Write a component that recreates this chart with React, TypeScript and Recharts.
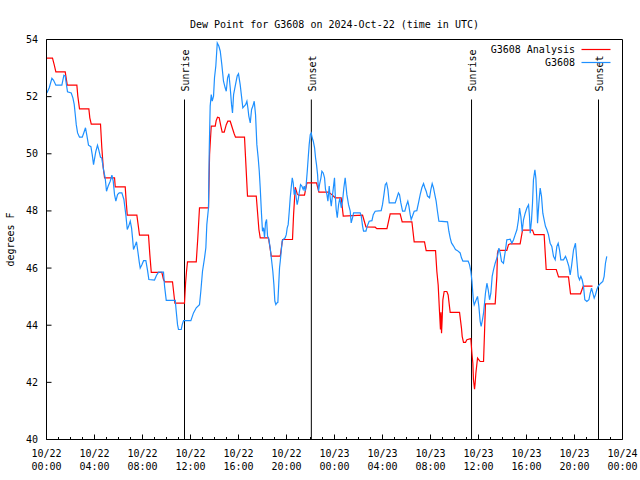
import { Legend, Line, LineChart, ReferenceLine, XAxis, YAxis } from "recharts";

const FONT = '"DejaVu Sans Mono", "Liberation Mono", monospace';
const RED = "#ff0000";
const BLUE = "#1e90ff";

const title = "Dew Point for G3608 on 2024-Oct-22 (time in UTC)";

// x is hours since 2024-10-22 00:00 UTC
const majorHours = [0, 4, 8, 12, 16, 20, 24, 28, 32, 36, 40, 44, 48];
const majorDates = ["10/22", "10/22", "10/22", "10/22", "10/22", "10/22", "10/23", "10/23", "10/23", "10/23", "10/23", "10/23", "10/24"];
const majorTimes = ["00:00", "04:00", "08:00", "12:00", "16:00", "20:00", "00:00", "04:00", "08:00", "12:00", "16:00", "20:00", "00:00"];
const hourTicks = Array.from({ length: 49 }, (_, i) => i);
const yTicks = [40, 42, 44, 46, 48, 50, 52, 54];

const eventNames = ["Sunrise", "Sunset", "Sunrise", "Sunset"];
const eventHours = [11.5, 22.07, 35.42, 46.0];
const eventTop = 51.9;

const analysisHours = [
  0.0, 0.5, 0.64, 0.78, 1.56, 1.73, 2.53, 2.61, 2.75, 3.53,
  3.61, 3.73, 4.5, 4.61, 4.73, 4.84, 5.67, 5.73, 6.56, 6.64,
  6.73, 7.53, 7.67, 7.75, 8.5, 8.61, 8.73, 9.61, 9.75, 9.86,
  10.5, 10.7, 11.5, 11.59, 11.67, 11.75, 12.48, 12.61, 12.75, 13.5,
  13.59, 13.67, 13.73, 14.06, 14.14, 14.25, 14.39, 14.53, 14.64, 14.81,
  14.98, 15.11, 15.31, 15.48, 15.64, 15.75, 16.5, 16.75, 17.48, 17.7,
  17.81, 18.5, 18.73, 19.48, 19.67, 20.5, 20.59, 20.73, 20.89, 21.0,
  21.5, 21.7, 22.5, 22.7, 23.5, 23.78, 24.06, 24.56, 24.73, 26.34,
  26.62, 27.39, 27.53, 28.37, 28.64, 29.47, 29.64, 30.45, 30.64, 31.5,
  31.64, 32.42, 32.53, 32.64, 32.75, 32.83, 32.87, 32.92, 32.97, 33.03,
  33.14, 33.36, 33.47, 33.58, 33.64, 34.42, 34.58, 34.64, 34.75, 34.92,
  35.03, 35.36, 35.45, 35.53, 35.58, 35.67, 35.72, 35.78, 35.92, 36.14,
  36.42, 36.5, 36.58, 37.39, 37.53, 37.58, 37.64, 38.36, 38.5, 38.64,
  39.47, 39.67, 40.5, 40.64, 41.47, 41.64, 42.48, 42.67, 43.5, 43.67,
  44.5, 44.73, 45.5
];
const analysisValues = [
  53.35, 53.35, 53.12, 52.87, 52.87, 52.4, 52.4, 52.02, 51.57, 51.57,
  51.26, 51.04, 51.04, 50.21, 49.51, 49.16, 49.16, 48.84, 48.84, 48.34,
  47.85, 47.85, 47.41, 47.15, 47.15, 46.48, 45.85, 45.85, 45.6, 45.52,
  45.52, 44.77, 44.77, 45.48, 45.89, 46.22, 46.22, 47.06, 48.11, 48.11,
  49.97, 50.56, 50.97, 50.97, 51.16, 51.28, 51.26, 50.97, 50.76, 50.76,
  51.02, 51.14, 51.14, 50.91, 50.7, 50.58, 50.58, 48.52, 48.52, 47.35,
  47.06, 47.06, 46.42, 46.42, 47.0, 47.0, 47.87, 48.83, 48.6, 48.55,
  48.55, 48.98, 48.98, 48.66, 48.66, 48.57, 48.46, 48.46, 47.82, 47.85,
  47.44, 47.43, 47.38, 47.38, 47.9, 47.9, 47.62, 47.62, 46.92, 46.92,
  46.61, 46.61, 45.88, 45.41, 44.48, 43.85, 44.45, 43.72, 44.19, 44.89,
  45.18, 45.18, 45.06, 44.66, 44.45, 44.45, 43.9, 43.61, 43.4, 43.4,
  43.49, 43.53, 43.02, 42.67, 42.09, 41.76, 41.97, 42.32, 42.85, 42.73,
  42.73, 43.72, 44.75, 44.75, 45.71, 46.52, 46.62, 46.62, 46.82, 46.85,
  46.85, 47.33, 47.33, 47.17, 47.17, 45.95, 45.95, 45.69, 45.69, 45.1,
  45.1, 45.37, 45.37
];

const stationHours = [
  0.03, 0.23, 0.45, 0.59, 0.78, 1.28, 1.45, 1.56, 1.64, 1.75,
  2.06, 2.2, 2.31, 2.39, 2.48, 2.59, 2.75, 2.98, 3.14, 3.25,
  3.36, 3.5, 3.7, 3.81, 3.92, 4.11, 4.25, 4.36, 4.5, 4.6,
  4.75, 4.89, 5.0, 5.14, 5.31, 5.45, 5.56, 5.67, 5.78, 5.92,
  6.06, 6.28, 6.45, 6.61, 6.73, 6.84, 6.98, 7.09, 7.17, 7.25,
  7.36, 7.5, 7.61, 7.73, 7.81, 7.95, 8.09, 8.28, 8.42, 8.53,
  9.0, 9.17, 9.34, 9.75, 9.84, 9.98, 10.73, 10.81, 10.92, 11.0,
  11.23, 11.31, 11.42, 12.03, 12.25, 12.48, 12.75, 12.86, 13.0, 13.17,
  13.28, 13.36, 13.5, 13.56, 13.64, 13.73, 13.81, 13.92, 14.0, 14.11,
  14.23, 14.36, 14.48, 14.61, 14.75, 14.89, 14.98, 15.09, 15.2, 15.31,
  15.42, 15.5, 15.59, 15.75, 15.89, 16.0, 16.14, 16.25, 16.36, 16.48,
  16.59, 16.7, 16.78, 16.86, 16.98, 17.09, 17.2, 17.31, 17.42, 17.53,
  17.64, 17.73, 17.81, 17.92, 18.0, 18.09, 18.17, 18.25, 18.34, 18.42,
  18.53, 18.64, 18.75, 18.86, 18.95, 19.03, 19.11, 19.2, 19.28, 19.36,
  19.42, 19.48, 19.56, 19.64, 19.73, 19.89, 19.98, 20.06, 20.14, 20.23,
  20.31, 20.39, 20.48, 20.56, 20.64, 20.73, 20.81, 20.89, 20.98, 21.06,
  21.17, 21.28, 21.39, 21.48, 21.56, 21.64, 21.73, 21.81, 21.89, 21.98,
  22.06, 22.14, 22.23, 22.34, 22.42, 22.5, 22.59, 22.67, 22.75, 22.87,
  22.95, 23.06, 23.17, 23.25, 23.37, 23.45, 23.56, 23.64, 23.73, 23.84,
  23.92, 24.0, 24.06, 24.14, 24.23, 24.34, 24.45, 24.56, 24.67, 24.78,
  24.89, 25.03, 25.17, 25.31, 25.39, 25.5, 25.59, 26.14, 26.23, 26.34,
  26.42, 26.62, 26.73, 26.89, 27.12, 27.23, 27.39, 27.89, 28.0, 28.12,
  28.23, 28.34, 28.45, 28.56, 29.06, 29.2, 29.33, 29.42, 29.53, 29.67,
  29.86, 29.97, 30.11, 30.2, 30.31, 30.39, 30.5, 30.64, 30.86, 31.0,
  31.14, 31.28, 31.42, 31.53, 31.64, 31.75, 31.92, 32.03, 32.14, 32.25,
  32.36, 32.47, 32.58, 32.7, 33.42, 33.53, 33.64, 33.75, 33.92, 34.08,
  34.25, 34.47, 34.58, 34.7, 35.14, 35.25, 35.36, 35.45, 35.58, 35.64,
  35.81, 35.92, 36.03, 36.14, 36.22, 36.33, 36.42, 36.58, 36.7, 36.81,
  36.92, 37.03, 37.14, 37.25, 37.39, 37.58, 37.7, 37.81, 37.92, 38.08,
  38.25, 38.36, 38.64, 38.78, 38.92, 39.06, 39.2, 39.33, 39.42, 39.53,
  39.64, 39.75, 39.89, 40.03, 40.17, 40.25, 40.31, 40.42, 40.5, 40.58,
  40.7, 40.78, 40.86, 40.92, 41.03, 41.14, 41.25, 41.36, 41.47, 41.58,
  41.7, 41.83, 41.97, 42.11, 42.25, 42.39, 42.53, 42.64, 42.75, 42.86,
  43.08, 43.25, 43.36, 43.53, 43.64, 43.75, 43.92, 44.08, 44.19, 44.31,
  44.42, 44.53, 44.64, 44.75, 44.86, 45.03, 45.2, 45.31, 45.42, 45.53,
  45.64, 45.75, 45.86, 45.97, 46.08, 46.19, 46.36, 46.47, 46.58, 46.69
];
const stationValues = [
  52.13, 52.31, 52.64, 52.57, 52.4, 52.4, 52.75, 52.72, 52.48, 52.17,
  52.13, 51.96, 51.73, 51.4, 51.02, 50.73, 50.58, 50.58, 50.77, 50.91,
  50.65, 50.3, 50.25, 49.97, 49.62, 50.08, 50.3, 50.13, 49.88, 49.86,
  49.45, 49.16, 48.69, 48.87, 49.04, 49.25, 49.04, 48.57, 48.34, 48.57,
  48.63, 48.63, 48.4, 47.87, 47.35, 47.46, 47.64, 47.4, 47.05, 46.65,
  46.76, 46.92, 46.59, 46.21, 46.0, 46.12, 46.26, 46.26, 45.92, 45.6,
  45.58, 45.75, 45.86, 45.86, 45.36, 44.87, 44.87, 44.49, 44.02, 43.85,
  43.85, 44.02, 44.16, 44.16, 44.43, 44.61, 44.72, 45.19, 45.89, 46.36,
  46.71, 47.52, 48.11, 50.09, 51.67, 52.07, 51.84, 52.02, 52.66, 53.07,
  53.88, 53.77, 53.59, 53.12, 52.54, 52.31, 52.19, 52.66, 52.8, 52.31,
  51.72, 51.43, 52.07, 52.42, 52.72, 52.8, 52.42, 52.02, 51.61, 51.67,
  51.72, 51.84, 51.61, 51.32, 51.08, 51.55, 51.67, 51.84, 51.37, 50.32,
  49.86, 49.39, 48.81, 47.87, 47.29, 47.41, 47.06, 47.58, 47.7, 47.12,
  47.0, 46.71, 46.3, 45.89, 45.42, 44.84, 44.72, 44.78, 44.8, 45.5,
  46.01, 46.24, 46.59, 46.94, 47.0, 47.06, 47.17, 47.41, 47.52, 47.99,
  48.46, 48.81, 49.16, 48.98, 48.57, 48.75, 48.46, 48.22, 48.4, 48.63,
  48.92, 48.87, 48.75, 48.87, 48.69, 48.92, 49.39, 49.86, 50.32, 50.67,
  50.73, 50.56, 50.44, 50.21, 49.86, 49.62, 49.27, 48.69, 48.92, 49.16,
  49.39, 49.33, 49.16, 48.75, 48.57, 48.34, 48.87, 48.46, 48.17, 48.57,
  48.87, 49.16, 48.57, 48.05, 47.76, 48.22, 48.46, 48.11, 48.34, 48.81,
  49.16, 48.57, 48.22, 47.99, 47.58, 47.76, 47.93, 47.93, 47.82, 47.47,
  47.29, 47.29, 47.47, 47.64, 47.66, 47.87, 47.99, 48.01, 48.22, 48.57,
  48.92, 48.98, 48.75, 48.28, 48.28, 48.46, 48.63, 48.57, 48.28, 47.99,
  47.99, 48.17, 48.34, 48.17, 47.87, 47.7, 47.82, 47.99, 48.01, 48.28,
  48.57, 48.81, 48.96, 48.81, 48.69, 48.52, 48.46, 48.75, 48.96, 48.81,
  48.57, 48.34, 47.99, 47.64, 47.62, 47.29, 47.06, 46.88, 46.77, 46.65,
  46.61, 46.53, 46.36, 46.24, 46.24, 46.12, 45.89, 45.55, 44.84, 44.71,
  44.89, 45.01, 44.66, 44.13, 43.96, 44.19, 44.42, 45.12, 45.47, 45.24,
  44.89, 45.12, 45.71, 45.94, 46.17, 46.41, 46.7, 46.52, 46.23, 46.17,
  46.64, 46.99, 47.01, 46.87, 46.99, 47.17, 47.34, 47.69, 48.1, 47.81,
  47.28, 47.69, 47.92, 48.1, 48.21, 47.81, 47.22, 47.69, 48.27, 49.09,
  49.44, 49.15, 48.39, 47.57, 48.27, 48.8, 48.51, 47.92, 47.69, 47.46,
  47.34, 47.17, 46.87, 46.76, 46.41, 46.29, 46.76, 46.87, 46.64, 46.29,
  46.29, 46.41, 46.29, 46.06, 45.76, 46.06, 46.64, 46.87, 46.29, 45.71,
  45.59, 45.71, 45.59, 45.36, 44.89, 44.83, 44.89, 45.12, 45.3, 45.12,
  44.95, 45.07, 45.24, 45.36, 45.42, 45.47, 45.53, 45.71, 46.17, 46.41
];

const analysisData = analysisHours.map((h, i) => ({ h, v: analysisValues[i] }));
const stationData = stationHours.map((h, i) => ({ h, v: stationValues[i] }));

const textProps = { fontFamily: FONT, fontSize: 10, fill: "#000" };

function BottomTick({ x, y, payload }: any) {
  const i = majorHours.indexOf(payload.value);
  const major = i >= 0;
  return (
    <g>
      <line x1={x} x2={x} y1={y} y2={y - (major ? 5 : 2.5)} stroke="#000" strokeWidth={1} />
      {major && (
        <text x={x} y={y + 17} textAnchor="middle" {...textProps}>
          {majorDates[i]}
        </text>
      )}
      {major && (
        <text x={x} y={y + 30} textAnchor="middle" {...textProps}>
          {majorTimes[i]}
        </text>
      )}
    </g>
  );
}

function TopTick({ x, y, payload }: any) {
  const major = majorHours.includes(payload.value);
  return <line x1={x} x2={x} y1={y} y2={y + (major ? 5 : 2.5)} stroke="#000" strokeWidth={1} />;
}

function LeftTick({ x, y, payload }: any) {
  return (
    <g>
      <line x1={x} x2={x + 5} y1={y} y2={y} stroke="#000" strokeWidth={1} />
      <text x={x - 8.5} y={y} dy="0.35em" textAnchor="end" {...textProps}>
        {payload.value}
      </text>
    </g>
  );
}

function RightTick({ x, y }: any) {
  return <line x1={x} x2={x - 5} y1={y} y2={y} stroke="#000" strokeWidth={1} />;
}

function TitleLabel({ viewBox }: any) {
  if (!viewBox) return null;
  return (
    <text x={viewBox.x + viewBox.width / 2} y={viewBox.y - 11} textAnchor="middle" {...textProps}>
      {title}
    </text>
  );
}

function YTitle({ viewBox }: any) {
  if (!viewBox) return null;
  const cy = viewBox.y + viewBox.height / 2;
  return (
    <text x={10} y={cy} transform={`rotate(-90 10 ${cy})`} textAnchor="middle" dominantBaseline="central" {...textProps}>
      degrees F
    </text>
  );
}

function EventLabel({ viewBox, text }: any) {
  if (!viewBox) return null;
  const x = viewBox.x + 1;
  const y = viewBox.y - 8;
  return (
    <text x={x} y={y} transform={`rotate(-90 ${x} ${y})`} textAnchor="start" dominantBaseline="central" {...textProps}>
      {text}
    </text>
  );
}

function LegendBox() {
  return (
    <svg width={182} height={30} style={{ display: "block" }}>
      <text x={135} y={9.5} textAnchor="end" dominantBaseline="central" {...textProps}>
        G3608 Analysis
      </text>
      <line x1={141.5} x2={170.5} y1={9.5} y2={9.5} stroke={RED} strokeWidth={1.2} />
      <text x={135} y={22.5} textAnchor="end" dominantBaseline="central" {...textProps}>
        G3608
      </text>
      <line x1={141.5} x2={170.5} y1={22.5} y2={22.5} stroke={BLUE} strokeWidth={1.2} />
    </svg>
  );
}

export default function App() {
  return (
    <div style={{ position: "absolute", left: 0, top: 0, width: 640, height: 480, background: "#fff" }}>
      <LineChart width={640} height={480} margin={{ top: 38.5, right: 16.5, bottom: 0.5, left: 0 }}>
        <XAxis
          dataKey="h"
          type="number"
          domain={[0, 48]}
          ticks={hourTicks}
          interval={0}
          allowDataOverflow
          height={40}
          tickSize={0}
          tickMargin={0}
          tickLine={false}
          axisLine={{ stroke: "#000" }}
          tick={<BottomTick />}
        />
        <XAxis
          xAxisId="top"
          orientation="top"
          type="number"
          domain={[0, 48]}
          ticks={hourTicks}
          interval={0}
          height={1}
          tickSize={0}
          tickMargin={0}
          tickLine={false}
          axisLine={{ stroke: "#000" }}
          tick={<TopTick />}
          label={(p: any) => <TitleLabel {...p} />}
        />
        <YAxis
          type="number"
          domain={[40, 54]}
          ticks={yTicks}
          interval={0}
          width={46.5}
          tickSize={0}
          tickMargin={0}
          tickLine={false}
          axisLine={{ stroke: "#000" }}
          tick={<LeftTick />}
          label={(p: any) => <YTitle {...p} />}
        />
        <YAxis
          yAxisId="right"
          orientation="right"
          type="number"
          domain={[40, 54]}
          ticks={yTicks}
          interval={0}
          width={1}
          tickSize={0}
          tickMargin={0}
          tickLine={false}
          axisLine={{ stroke: "#000" }}
          tick={<RightTick />}
        />
        {eventHours.map((h, i) => (
          <ReferenceLine
            key={i}
            segment={[
              { x: h, y: 40 },
              { x: h, y: eventTop }
            ]}
            stroke="#000"
            strokeWidth={1}
            label={(p: any) => <EventLabel {...p} text={eventNames[i]} />}
          />
        ))}
        <Line
          data={analysisData}
          dataKey="v"
          type="linear"
          stroke={RED}
          strokeWidth={1.2}
          dot={false}
          activeDot={false}
          isAnimationActive={false}
          name="G3608 Analysis"
        />
        <Line
          data={stationData}
          dataKey="v"
          type="linear"
          stroke={BLUE}
          strokeWidth={1.2}
          dot={false}
          activeDot={false}
          isAnimationActive={false}
          name="G3608"
        />
        <Legend
          layout="horizontal"
          verticalAlign="middle"
          align="center"
          wrapperStyle={{ top: 40, left: 440, width: 182, height: 30 }}
          content={() => <LegendBox />}
        />
      </LineChart>
    </div>
  );
}
